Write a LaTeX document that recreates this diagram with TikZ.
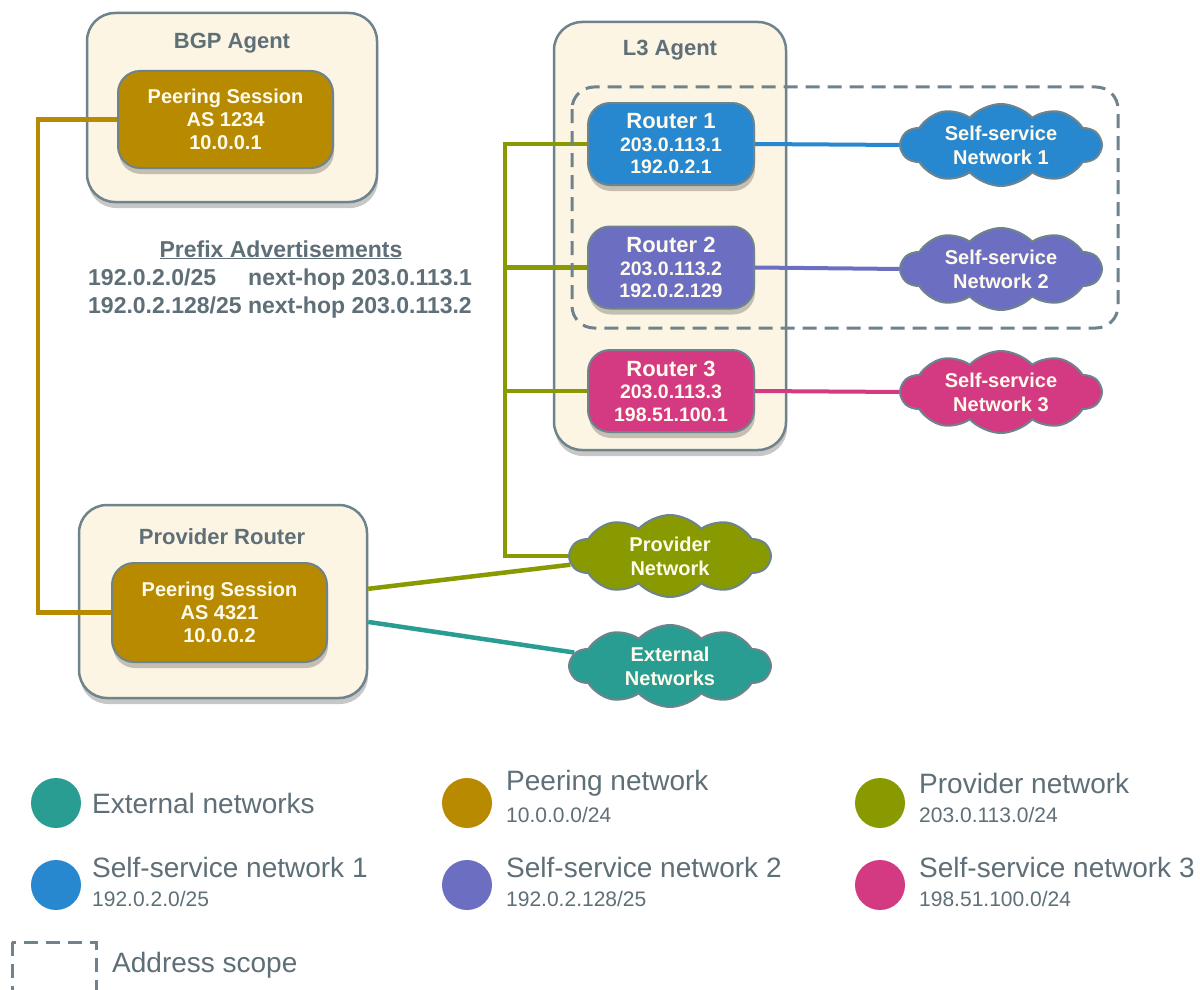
\documentclass[tikz,border=0pt]{standalone}
\usepackage{fontspec}
\setmainfont{Liberation Sans}
\usetikzlibrary{shapes.symbols,shadows,calc}
\definecolor{cream}{HTML}{FCF5E3}
\definecolor{bgrey}{HTML}{6E838C}
\definecolor{tgrey}{HTML}{5E6F77}
\definecolor{gold}{HTML}{B88A00}
\definecolor{olive}{HTML}{889A00}
\definecolor{tealc}{HTML}{2A9D92}
\definecolor{bluec}{HTML}{2788D0}
\definecolor{purplec}{HTML}{6C6FC1}
\definecolor{pinkc}{HTML}{D33A82}
\definecolor{wtext}{HTML}{FFFBEC}
\pgfdeclarelayer{back}
\pgfdeclarelayer{mid}
\pgfsetlayers{back,mid,main}
\begin{document}
\begin{tikzpicture}[x=1pt,y=-1pt,
  shad/.style={drop shadow={shadow xshift=1pt,shadow yshift=-6pt,opacity=0.22,fill=black}},
  agentbox/.style={draw=bgrey,line width=2.5pt,fill=cream,rounded corners=28pt,inner sep=0pt,shad},
  innerbox/.style={draw=bgrey,line width=2pt,rounded corners=22pt,inner sep=0pt,text=wtext,align=center,shad},
  netcloud/.style={cloud,cloud puffs=10,cloud puff arc=95,cloud ignores aspect,draw=bgrey,line width=2pt,inner sep=0pt,text=wtext,align=center,minimum width=200pt,minimum height=82pt,font=\fontsize{20}{24}\selectfont\bfseries},
  titletxt/.style={text=tgrey,inner sep=0pt,font=\fontsize{22}{26}\selectfont\bfseries},
  prefixtxt/.style={text=tgrey,inner sep=0pt,anchor=base west,font=\fontsize{23}{27}\selectfont\bfseries},
  wire/.style={line width=4.5pt},
  legdot/.style={circle,minimum size=50pt,inner sep=0pt},
  legmain/.style={text=tgrey,inner sep=0pt,anchor=west,font=\fontsize{28}{32}\selectfont},
  legsub/.style={text=tgrey,inner sep=0pt,anchor=west,font=\fontsize{21}{24}\selectfont},
  scopeline/.style={draw=bgrey,line width=3pt,dash pattern=on 14pt off 8pt}
]
\useasboundingbox (0,0) rectangle (1200,990);
\begin{pgfonlayer}{back}
\fill[white] (0,0) rectangle (1200,990);
\node[agentbox,minimum width=290pt,minimum height=189pt] (bgp) at (232,107.5) {};
\node[agentbox,minimum width=288pt,minimum height=193pt] (prov) at (223,601.5) {};
\node[agentbox,minimum width=232pt,minimum height=428pt] (l3) at (670,236) {};
\end{pgfonlayer}

\node[titletxt] (bgpt) at (232,43) {BGP Agent};
\node[titletxt] (provt) at (222,537) {Provider Router};
\node[titletxt] (l3t) at (670,50) {L3 Agent};

\node[innerbox,fill=gold,minimum width=215pt,minimum height=97pt,font=\fontsize{20}{23}\selectfont\bfseries] (peer1) at (225.5,119.5) {Peering Session\\AS 1234\\10.0.0.1};
\node[innerbox,fill=gold,minimum width=215pt,minimum height=99pt,font=\fontsize{20}{23}\selectfont\bfseries] (peer2) at (219.5,612.5) {Peering Session\\AS 4321\\10.0.0.2};

\node[innerbox,fill=bluec,minimum width=166pt,minimum height=82pt,font=\fontsize{19.5}{22.5}\selectfont\bfseries] (r1) at (671,144) {{\fontsize{22}{22.5}\selectfont Router 1}\\203.0.113.1\\192.0.2.1};
\node[innerbox,fill=purplec,minimum width=166pt,minimum height=82pt,font=\fontsize{19.5}{22.5}\selectfont\bfseries] (r2) at (671,267.5) {{\fontsize{22}{22.5}\selectfont Router 2}\\203.0.113.2\\192.0.2.129};
\node[innerbox,fill=pinkc,minimum width=166pt,minimum height=82pt,font=\fontsize{19.5}{22.5}\selectfont\bfseries] (r3) at (671,391) {{\fontsize{22}{22.5}\selectfont Router 3}\\203.0.113.3\\198.51.100.1};

\node[netcloud,fill=bluec] (c1) at (1001,145) {Self-service\\Network 1};
\node[netcloud,fill=purplec] (c2) at (1001,269) {Self-service\\Network 2};
\node[netcloud,fill=pinkc] (c3) at (1001,392) {Self-service\\Network 3};
\node[netcloud,fill=olive] (pn) at (670,556) {Provider\\Network};
\node[netcloud,fill=tealc] (ext) at (670,666) {External\\Networks};

\draw[scopeline,rounded corners=22pt] (572,87) rectangle (1118,328);

\node[prefixtxt,anchor=base] (pfx) at (281,257) {\underline{Prefix Advertisements}};
\node[prefixtxt] (pa1) at (88,285) {192.0.2.0/25};
\node[prefixtxt] (pa1b) at (248,285) {next-hop 203.0.113.1};
\node[prefixtxt] (pa2) at (88,313) {192.0.2.128/25 next-hop 203.0.113.2};

\coordinate (gx) at (505,0);
\coordinate (gd) at (38,0);
\begin{pgfonlayer}{mid}
\draw[wire,gold] (peer1.west) -- (peer1.west -| gd) -- (peer2.west -| gd) -- (peer2.west);
\draw[wire,olive] (r1.west) -- (r1.west -| gx) -- (pn.west -| gx) -- (pn.west);
\draw[wire,olive] (r2.west) -- (r2.west -| gx);
\draw[wire,olive] (r3.west) -- (r3.west -| gx);
\draw[wire,olive] (prov.5.75) -- (pn.185);
\draw[wire,tealc] (prov.-8.1) -- (ext.172);
\draw[line width=4pt,bluec] (r1.east) -- (c1.west);
\draw[line width=4pt,purplec] (r2.east) -- (c2.west);
\draw[line width=4pt,pinkc] (r3.east) -- (c3.west);
\end{pgfonlayer}

% legend
\node[legdot,fill=tealc] (l1) at (56,803) {};
\node[legmain] (l1t) at (92,803) {External networks};
\node[legdot,fill=gold] (l2) at (467,803) {};
\node[legmain] (l2t) at (506,783) {Peering network};
\node[legsub] (l2s) at (506,815) {10.0.0.0/24};
\node[legdot,fill=olive] (l3d) at (880,803) {};
\node[legmain] (l3tt) at (919,783) {Provider network};
\node[legsub] (l3s) at (919,815) {203.0.113.0/24};
\node[legdot,fill=bluec] (l4) at (56,885) {};
\node[legmain] (l4t) at (92,867) {Self-service network 1};
\node[legsub] (l4s) at (92,899) {192.0.2.0/25};
\node[legdot,fill=purplec] (l5) at (467,885) {};
\node[legmain] (l5t) at (506,867) {Self-service network 2};
\node[legsub] (l5s) at (506,899) {192.0.2.128/25};
\node[legdot,fill=pinkc] (l6) at (880,885) {};
\node[legmain] (l6t) at (919,867) {Self-service network 3};
\node[legsub] (l6s) at (919,899) {198.51.100.0/24};
\draw[scopeline] (12,942) rectangle (96,992);
\node[legmain] (l7t) at (112,965) {Address scope};
\end{tikzpicture}
\end{document}
